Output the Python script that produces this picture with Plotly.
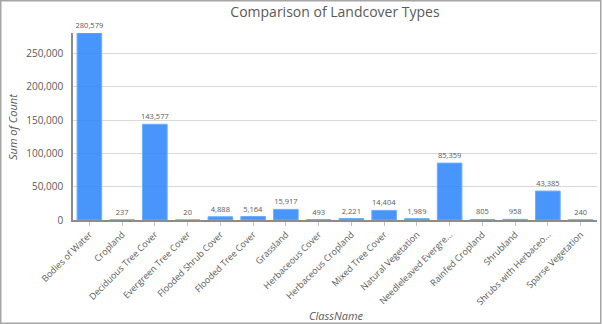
import plotly.graph_objects as go

# Landcover classes and their pixel counts
class_names = [
    "Bodies of Water", "Cropland", "Deciduous Tree Cover", "Evergreen Tree Cover",
    "Flooded Shrub Cover", "Flooded Tree Cover", "Grassland", "Herbaceous Cover",
    "Herbaceous Cropland", "Mixed Tree Cover", "Natural Vegetation",
    "Needleleaved Evergre...", "Rainfed Cropland", "Shrubland",
    "Shrubs with Herbaceo...", "Sparse Vegetation",
]
counts = [280579, 237, 143577, 20, 4888, 5164, 15917, 493, 2221, 14404, 1989,
          85359, 805, 958, 43385, 240]

y_ticks = [0, 50000, 100000, 150000, 200000, 250000]
y_tick_labels = ["0", "50,000", "100,000", "150,000", "200,000", "250,000"]

W, H = 602, 324
ML, MR, MT, MB = 73, 5, 33, 104
FONT = "Open Sans, Noto Sans, sans-serif"
GREY = "#595959"

fig = go.Figure()
fig.add_trace(go.Bar(
    x=class_names,
    y=counts,
    marker=dict(color="rgba(40,130,250,0.85)", line=dict(color="#6aadff", width=1)),
    text=[f"{v:,}" for v in counts],
    textposition="outside",
    constraintext="none",
    textfont=dict(size=7.5, color=GREY, family=FONT),
    cliponaxis=False,
))

pw = W - ML - MR
ph = H - MT - MB


def px_x(px):
    return (px - ML) / pw


def px_y(py):
    return (H - MB - py) / ph


# outer frame around the whole chart
fig.add_shape(
    type="rect", xref="paper", yref="paper",
    x0=px_x(0.75), x1=px_x(W - 1.25),
    y0=px_y(H - 0.75), y1=px_y(0.75),
    line=dict(color="#a6a6a6", width=1.5), layer="above",
)

# axis titles
fig.add_annotation(
    text="<i>ClassName</i>", xref="paper", yref="paper",
    x=px_x(336), y=px_y(315), xanchor="center", yanchor="middle",
    showarrow=False, font=dict(size=11, color=GREY, family=FONT),
)
fig.add_annotation(
    text="<i>Sum of Count</i>", xref="paper", yref="paper",
    x=px_x(12), y=px_y(127), xanchor="center", yanchor="middle",
    textangle=-90, showarrow=False, font=dict(size=11, color=GREY, family=FONT),
)

fig.update_layout(
    width=W, height=H,
    margin=dict(l=ML, r=MR, t=MT, b=MB, autoexpand=False),
    paper_bgcolor="white", plot_bgcolor="white",
    showlegend=False,
    bargap=0.25,
    title=dict(text="Comparison of Landcover Types", x=0.5, xref="paper", xanchor="center",
               y=1 - 12 / H, yanchor="middle",
               font=dict(size=14, color=GREY, family=FONT)),
    font=dict(family=FONT, color=GREY),
)
fig.update_xaxes(
    automargin=False,
    tickangle=-45, tickfont=dict(size=9, color=GREY, family=FONT),
    showline=True, linecolor="#8c8c8c", linewidth=1.5,
    ticks="outside", ticklen=4, tickcolor="#bfbfbf",
    showgrid=False,
)
fig.update_yaxes(
    automargin=False,
    range=[0, 280579], tickvals=y_ticks, ticktext=y_tick_labels,
    tickfont=dict(size=10, color=GREY, family=FONT),
    ticklabelstandoff=6,
    showline=True, linecolor="#8c8c8c", linewidth=1.5,
    showgrid=True, gridcolor="#d9d9d9", gridwidth=1,
    zeroline=False,
)

fig.write_html("out.html")
